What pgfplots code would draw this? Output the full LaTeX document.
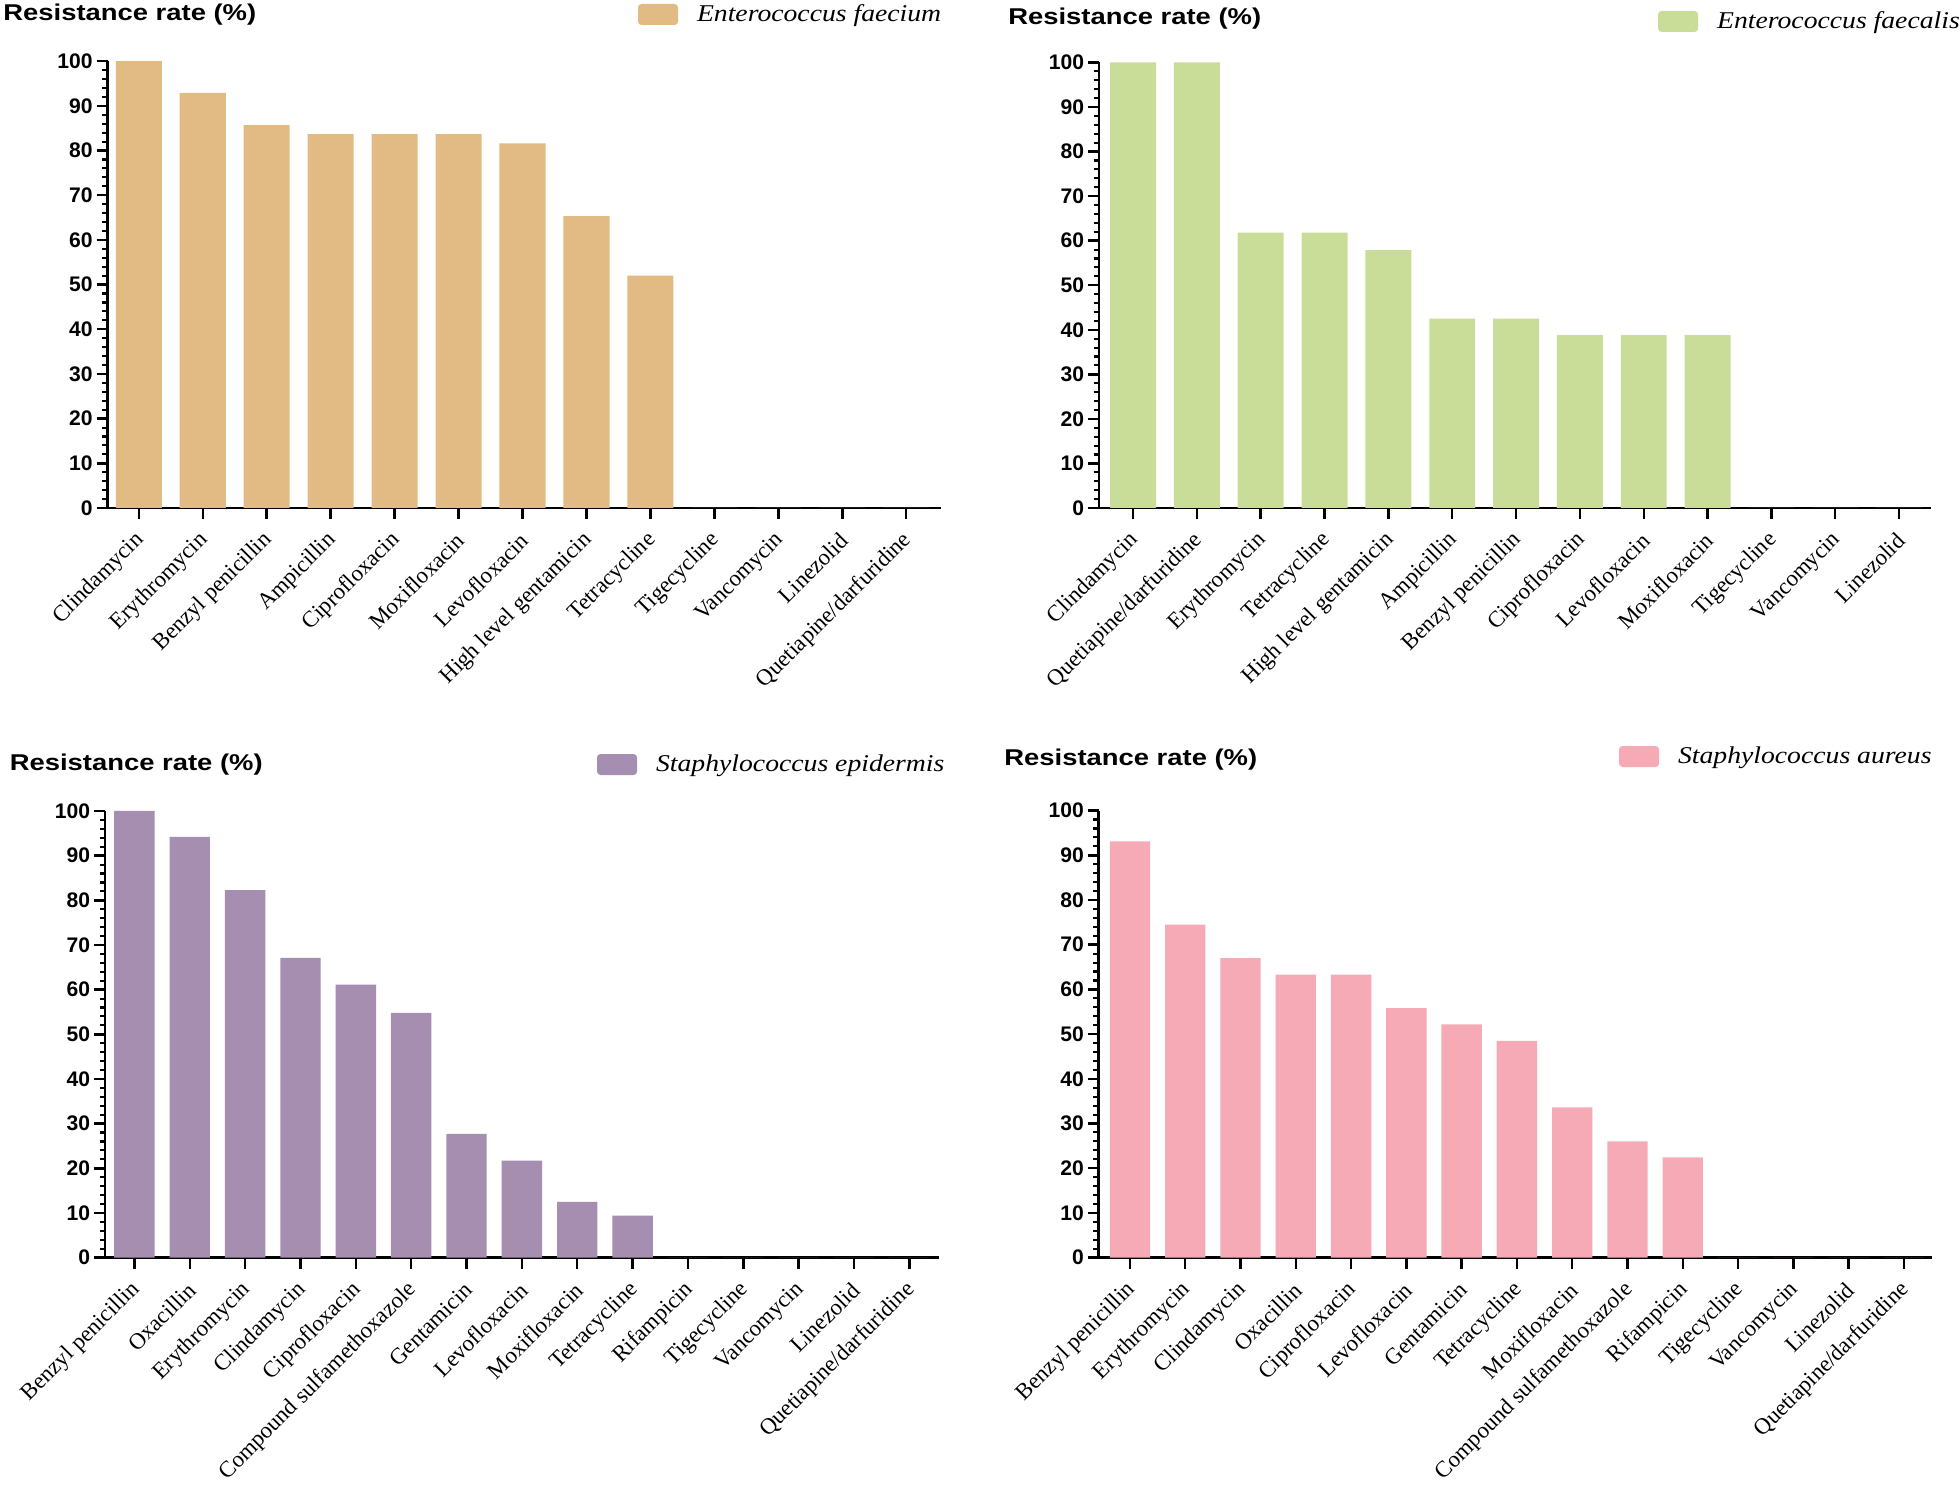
\documentclass[border=0pt]{standalone}
\usepackage{fontspec}
\usepackage{pgfplots}
\pgfplotsset{compat=1.18}
\setmainfont{Liberation Serif}
\newfontfamily\sansfnt{Liberation Sans}
\newfontfamily\titlefont{Liberation Sans}[FakeStretch=1.2]
\newfontfamily\legfont{Liberation Serif}[FakeStretch=1.15]

\definecolor{ctan}{RGB}{226,186,132}
\definecolor{cgreen}{RGB}{201,221,152}
\definecolor{cpurple}{RGB}{165,142,175}
\definecolor{cpink}{RGB}{245,170,182}

\pgfplotsset{
  panel/.style={
    scale only axis,
    anchor=south west,
    axis lines*=left,
    axis line style={line width=1.6pt},
    ymin=0, ymax=100,
    ytick={0,10,...,100},
    minor y tick num=4,
    tick align=outside,
    major tick length=0.22cm,
    minor tick length=0.11cm,
    every major tick/.append style={line width=1.4pt, black},
    every minor tick/.append style={line width=1.2pt, black},
    xtick={0,...,14},
    xtick pos=bottom, ytick pos=left,
    enlargelimits=false,
    clip=false,
    /pgf/number format/assume math mode=true,
    yticklabel style={font=\sansfnt\bfseries\fontsize{12}{12}\selectfont, inner sep=2pt},
    xticklabel style={font=\fontsize{13}{13}\selectfont, rotate=45, anchor=east, inner sep=2pt, xshift=-0.15cm, yshift=-0.28cm},
    every axis y label/.style={anchor=base west, inner sep=0pt, font=\titlefont\bfseries\fontsize{13}{13}\selectfont},
    legend style={draw=none, fill=none, inner sep=0pt, outer sep=0pt, anchor=north west,
      nodes={inner sep=0pt},
      font=\legfont\itshape\fontsize{13.7}{14}\selectfont,
      /tikz/every odd column/.append style={column sep=0.38cm}},
    ybar, bar width=0.72, bar shift=0pt,
  },
}

\begin{document}
\begin{tikzpicture}
\useasboundingbox (0,0) rectangle (39.2,29.76);

% Panel 1: Enterococcus faecium
\begin{axis}[panel,
  at={(2.15cm,19.6cm)}, width=16.662cm, height=8.936cm,
  xmin=-0.489, xmax=12.537,
  xticklabels={Clindamycin,Erythromycin,Benzyl penicillin,Ampicillin,Ciprofloxacin,Moxifloxacin,Levofloxacin,High level gentamicin,Tetracycline,Tigecycline,Vancomycin,Linezolid,Quetiapine/darfuridine},
  ylabel={Resistance rate (\%)},
  ylabel style={at={(axis description cs:-0.1254,1.0906)}},
  legend style={at={(axis description cs:0.6368,1.128)}},
  legend image code/.code={\fill[ctan, rounded corners=2pt] (0cm,-0.21cm) rectangle (0.8cm,0.21cm);},
]
\addplot[fill=ctan, draw=none] coordinates {
(0,100) (1,92.9) (2,85.7) (3,83.7) (4,83.7) (5,83.7) (6,81.6) (7,65.3) (8,52.0) (9,0) (10,0) (11,0) (12,0)};
\addlegendentry{Enterococcus faecium}
\end{axis}

% Panel 2: Enterococcus faecalis
\begin{axis}[panel,
  at={(21.98cm,19.6cm)}, width=16.64cm, height=8.91cm,
  xmin=-0.533, xmax=12.50,
  xticklabels={Clindamycin,Quetiapine/darfuridine,Erythromycin,Tetracycline,High level gentamicin,Ampicillin,Benzyl penicillin,Ciprofloxacin,Levofloxacin,Moxifloxacin,Tigecycline,Vancomycin,Linezolid},
  ylabel={Resistance rate (\%)},
  ylabel style={at={(axis description cs:-0.1094,1.0853)}},
  legend style={at={(axis description cs:0.672,1.1156)}},
  legend image code/.code={\fill[cgreen, rounded corners=2pt] (0cm,-0.21cm) rectangle (0.8cm,0.21cm);},
]
\addplot[fill=cgreen, draw=none] coordinates {
(0,100) (1,100) (2,61.8) (3,61.8) (4,57.9) (5,42.5) (6,42.5) (7,38.8) (8,38.8) (9,38.8) (10,0) (11,0) (12,0)};
\addlegendentry{Enterococcus faecalis}
\end{axis}

% Panel 3: Staphylococcus epidermis
\begin{axis}[panel,
  at={(2.10cm,4.608cm)}, width=16.68cm, height=8.932cm,
  xmin=-0.531, xmax=14.535,
  xticklabels={Benzyl penicillin,Oxacillin,Erythromycin,Clindamycin,Ciprofloxacin,Compound sulfamethoxazole,Gentamicin,Levofloxacin,Moxifloxacin,Tetracycline,Rifampicin,Tigecycline,Vancomycin,Linezolid,Quetiapine/darfuridine},
  ylabel={Resistance rate (\%)},
  ylabel style={at={(axis description cs:-0.1146,1.0896)}},
  legend style={at={(axis description cs:0.590,1.1276)}},
  legend image code/.code={\fill[cpurple, rounded corners=2pt] (0cm,-0.21cm) rectangle (0.8cm,0.21cm);},
  bar width=0.73,
]
\addplot[fill=cpurple, draw=none] coordinates {
(0,100) (1,94.2) (2,82.3) (3,67.1) (4,61.1) (5,54.8) (6,27.7) (7,21.7) (8,12.5) (9,9.4) (10,0) (11,0) (12,0) (13,0) (14,0)};
\addlegendentry{Staphylococcus epidermis}
\end{axis}

% Panel 4: Staphylococcus aureus
\begin{axis}[panel,
  at={(21.975cm,4.608cm)}, width=16.665cm, height=8.94cm,
  xmin=-0.565, xmax=14.51,
  xticklabels={Benzyl penicillin,Erythromycin,Clindamycin,Oxacillin,Ciprofloxacin,Levofloxacin,Gentamicin,Tetracycline,Moxifloxacin,Compound sulfamethoxazole,Rifampicin,Tigecycline,Vancomycin,Linezolid,Quetiapine/darfuridine},
  ylabel={Resistance rate (\%)},
  ylabel style={at={(axis description cs:-0.1137,1.0998)}},
  legend style={at={(axis description cs:0.6244,1.1445)}},
  legend image code/.code={\fill[cpink, rounded corners=2pt] (0cm,-0.21cm) rectangle (0.8cm,0.21cm);},
  bar width=0.73,
]
\addplot[fill=cpink, draw=none] coordinates {
(0,93.1) (1,74.5) (2,67.0) (3,63.3) (4,63.3) (5,55.8) (6,52.2) (7,48.5) (8,33.6) (9,26.0) (10,22.4) (11,0) (12,0) (13,0) (14,0)};
\addlegendentry{Staphylococcus aureus}
\end{axis}
\end{tikzpicture}
\end{document}
